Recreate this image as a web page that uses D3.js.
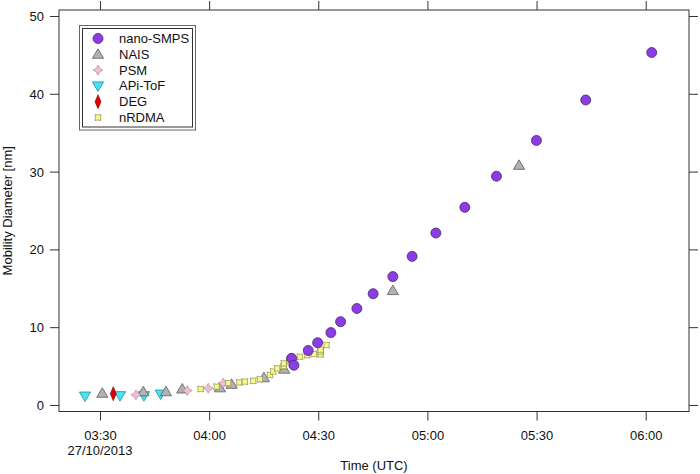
<!DOCTYPE html>
<html><head><meta charset="utf-8">
<script src="https://cdn.jsdelivr.net/npm/d3@7"></script>
<style>body{margin:0;background:#fff}svg{display:block}text{font-family:"Liberation Sans",Arial,sans-serif;fill:#111}</style>
</head><body><svg id="c" width="700" height="474"></svg>
<script>
// ---- data (time UTC on 27/10/2013, diameter in nm) ----
const smpsTime = ["04:22:40","04:23:18","04:27:14","04:29:49","04:33:28","04:36:08","04:40:37","04:45:05","04:50:30","04:55:48","05:02:19","05:10:17","05:18:59","05:29:58","05:43:31","06:01:39"];
const smpsDp   = [6.0,5.1,7.0,8.0,9.3,10.7,12.4,14.3,16.5,19.1,22.1,25.4,29.4,34.0,39.2,45.3];
const naisTime = ["03:30:38","03:41:54","03:48:08","03:52:37","04:02:58","04:06:11","04:15:03","04:20:38","04:50:30","05:25:11"];
const naisDp   = [1.5,1.7,1.7,2.05,2.2,2.65,3.5,4.6,14.7,30.8];
const psmTime  = ["03:39:53","03:53:59","03:59:45","04:03:52"];
const psmDp    = [1.3,1.85,2.15,2.8];
const apiTime  = ["03:25:53","03:35:30","03:42:05","03:46:41"];
const apiDp    = [1.15,1.2,1.2,1.4];
const degTime  = ["03:33:39"];
const degDp    = [1.45];
const rdmaTime = ["03:57:40","04:02:04","04:05:15","04:08:16","04:09:50","04:12:07","04:13:58","04:16:42","04:17:37","04:18:43","04:20:33","04:20:33","04:20:33","04:22:01","04:24:57","04:26:57","04:28:47","04:30:38","04:30:38","04:30:38","04:32:17"];
const rdmaDp   = [2.05,2.35,2.8,2.9,3.0,3.1,3.3,3.85,4.3,4.7,4.9,5.0,5.35,5.7,6.2,6.4,6.55,6.5,6.85,7.1,7.7];
const xTickTimes = ["03:30","04:00","04:30","05:00","05:30","06:00"];
const yTicks = [0,10,20,30,40,50];
const dateLabel = "27/10/2013";
const seriesNames = ["nano-SMPS","NAIS","PSM","APi-ToF","DEG","nRDMA"];

// ---- setup ----
const parse = d3.timeParse("%H:%M:%S");
const parseHM = d3.timeParse("%H:%M");
const svg = d3.select("#c");
const L=59, R=689, T=10, B=411.5;
const x = d3.scaleTime().domain([parse("03:18:44"), parse("06:11:54")]).range([L,R]);
const y = d3.scaleLinear().domain([-0.84, 50.77]).range([B,T]);

const styles = {
  "nano-SMPS": {sym:"circle", fill:"#8c3ce4", stroke:"#4a2a6a", w:0.8},
  "NAIS":      {sym:"tri", fill:"#b2b2b2", stroke:"#5a5a5a", w:0.8},
  "PSM":       {sym:"star", fill:"#f6bcd4", stroke:"#9a8a90", w:0.6},
  "APi-ToF":   {sym:"tridown", fill:"#46e6f2", stroke:"#2a8c96", w:0.8},
  "DEG":       {sym:"diamond", fill:"#e40000", stroke:"#800000", w:0.6},
  "nRDMA":     {sym:"square", fill:"#fbfb8c", stroke:"#8a8a50", w:0.7}
};
function path(sym){
  switch(sym){
    case "circle": return "M5,0A5,5 0 1 1 -5,0A5,5 0 1 1 5,0Z";
    case "tri": return "M0,-5.5L5.6,4L-5.6,4Z";
    case "tridown": return "M0,5.5L5.6,-4L-5.6,-4Z";
    case "star": return "M0,-5L1.8,-1.8L5,0L1.8,1.8L0,5L-1.8,1.8L-5,0L-1.8,-1.8Z";
    case "diamond": return "M0,-7L3,0L0,7L-3,0Z";
    case "square": return "M-3,-3L0,-2.4L3,-3L2.4,0L3,3L0,2.4L-3,3L-2.4,0Z";
  }
}

// frame
svg.append("rect").attr("x",L).attr("y",T).attr("width",R-L).attr("height",B-T)
  .attr("fill","none").attr("stroke","#333").attr("stroke-width",1);

// axes
const xt = xTickTimes.map(parseHM);
const xb = svg.append("g").attr("transform",`translate(0,${B})`)
  .call(d3.axisBottom(x).tickValues(xt).tickSize(9).tickFormat(d3.timeFormat("%H:%M")));
const xtp = svg.append("g").attr("transform",`translate(0,${T})`)
  .call(d3.axisTop(x).tickValues(xt).tickSize(9).tickFormat(""));
const yl = svg.append("g").attr("transform",`translate(${L},0)`)
  .call(d3.axisLeft(y).tickValues(yTicks).tickSize(9));
const yr = svg.append("g").attr("transform",`translate(${R},0)`)
  .call(d3.axisRight(y).tickValues(yTicks).tickSize(9).tickFormat(""));
[xb,xtp,yl,yr].forEach(g=>{
  g.select(".domain").remove();
  g.selectAll("line").attr("stroke","#333");
  g.selectAll("text").attr("font-size",13).attr("fill","#111").attr("font-family","Liberation Sans, Arial, sans-serif");
});
xb.selectAll("text").attr("dy",null).attr("y",28);
yl.selectAll("text").attr("x",-15).attr("dy","0.35em");
// date line under first tick
svg.append("text").attr("x",x(xt[0])).attr("y",B+43).attr("text-anchor","middle").attr("font-size",13).text(dateLabel);

// axis titles
svg.append("text").attr("x",(L+R)/2).attr("y",470).attr("text-anchor","middle").attr("font-size",13).text("Time (UTC)");
svg.append("text").attr("transform",`translate(12,${(T+B)/2}) rotate(-90)`).attr("text-anchor","middle").attr("font-size",13).text("Mobility Diameter [nm]");

// points
const plotG = svg.append("g");
function draw(name, times, vals){
  const s = styles[name];
  plotG.append("g").selectAll("path").data(times.map((t,i)=>({t:parse(t),v:vals[i]}))).join("path")
    .attr("d",path(s.sym)).attr("transform",d=>`translate(${x(d.t)},${y(d.v)})`)
    .attr("fill",s.fill).attr("stroke",s.stroke).attr("stroke-width",s.w);
}
draw("APi-ToF", apiTime, apiDp);
draw("NAIS", naisTime, naisDp);
draw("PSM", psmTime, psmDp);
draw("nRDMA", rdmaTime, rdmaDp);
draw("DEG", degTime, degDp);
draw("nano-SMPS", smpsTime, smpsDp);

// legend
const lg = svg.append("g");
lg.append("rect").attr("x",79.5).attr("y",25.5).attr("width",116).attr("height",104.5).attr("fill","#fff").attr("stroke","#666").attr("stroke-width",1);
lg.append("rect").attr("x",82.5).attr("y",28.5).attr("width",110).attr("height",98.5).attr("fill","none").attr("stroke","#333").attr("stroke-width",1);
seriesNames.forEach((n,i)=>{
  const s = styles[n], cy = 38.5 + i*15.8;
  lg.append("path").attr("d",path(s.sym)).attr("transform",`translate(98,${cy})`)
    .attr("fill",s.fill).attr("stroke",s.stroke).attr("stroke-width",s.w);
  lg.append("text").attr("x",119).attr("y",cy).attr("dy","0.35em").attr("font-size",13).text(n);
});
</script></body></html>
